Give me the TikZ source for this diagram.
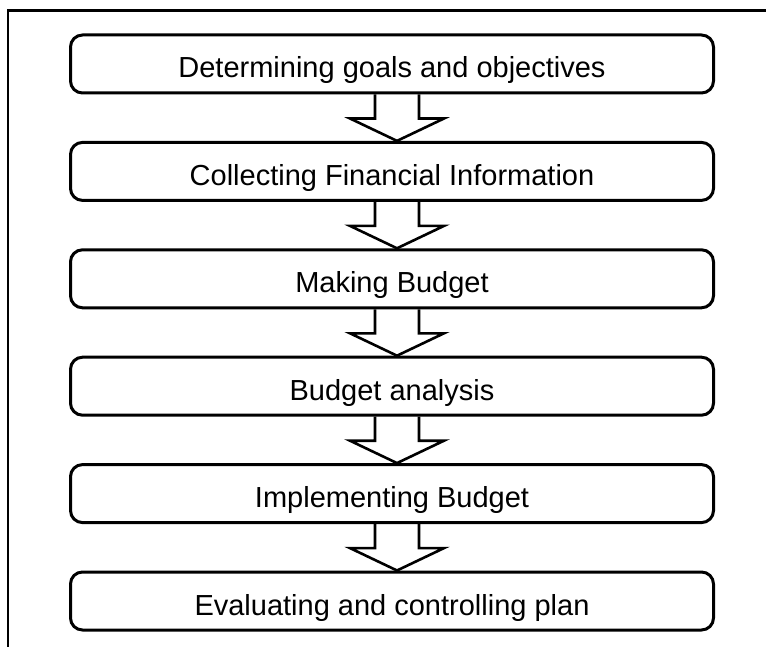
\documentclass[tikz,border=0pt]{standalone}
\usepackage{fontspec}
\setmainfont{Liberation Sans}
\begin{document}
\begin{tikzpicture}[x=1pt,y=-1pt,
  stepbox/.style={draw, line width=3pt, rounded corners=12pt,
    minimum width=643pt, minimum height=58pt, inner sep=0pt,
    text height=28pt, text depth=0pt,
    font=\fontsize{29}{34}\selectfont},
  flowarrow/.style={draw, line width=2.6pt, line join=miter}]
\useasboundingbox (0,0) rectangle (766,647);
% open frame: top and left edges only
\draw[line width=2.5pt] (8,647) -- (8,10.5) -- (766,10.5);
% process steps
\node[stepbox] (b1) at (392,64)    {Determining goals and objectives};
\node[stepbox] (b2) at (392,171.4) {Collecting Financial Information};
\node[stepbox] (b3) at (392,278.8) {Making Budget};
\node[stepbox] (b4) at (392,386.2) {Budget analysis};
\node[stepbox] (b5) at (392,493.6) {Implementing Budget};
\node[stepbox] (b6) at (392,601)   {Evaluating and controlling plan};
% hollow block arrows between consecutive steps
\foreach \a/\b in {b1/b2,b2/b3,b3/b4,b4/b5,b5/b6}{
  \draw[flowarrow] ([xshift=-17pt]\a.south)
    -- ([xshift=-17pt,yshift=-24pt]\a.south)
    -- ([xshift=-42pt,yshift=-24pt]\a.south)
    -- ([xshift=5pt]\b.north)
    -- ([xshift=52pt,yshift=-24pt]\a.south)
    -- ([xshift=27pt,yshift=-24pt]\a.south)
    -- ([xshift=27pt]\a.south);
}
\end{tikzpicture}
\end{document}
